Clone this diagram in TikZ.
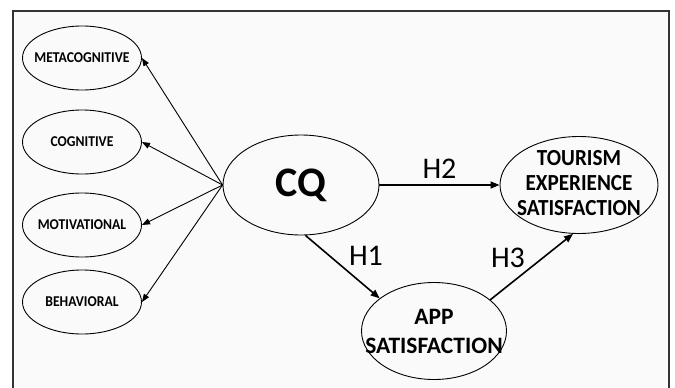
\documentclass[tikz,border=0pt]{standalone}
\usepackage{fontspec}
\usepackage{graphicx}
\setmainfont{Carlito}
\usetikzlibrary{shapes.geometric,arrows.meta}
\definecolor{bgc}{HTML}{FAFAFA}
\definecolor{framec}{HTML}{333333}
\newcommand\sqz[2]{\scalebox{#1}[1]{#2}}
\tikzset{
  oval/.style={ellipse, draw=black, line width=0.9pt, inner sep=0pt},
  small/.style={oval, minimum width=119pt, minimum height=64pt},
  smalltext/.style={font=\fontsize{15}{17}\selectfont\bfseries},
  arr/.style={line width=0.9pt, -{Triangle[length=8pt,width=6pt]}},
  harr/.style={line width=1.6pt, -{Triangle[length=9pt,width=7pt]}},
  hlab/.style={font=\fontsize{30}{32}\selectfont}
}
\begin{document}
\begin{tikzpicture}[x=1pt,y=-1pt]
\useasboundingbox (0,0) rectangle (675,388);
\fill[bgc] (13,11) rectangle (669,388);
\draw[framec, line width=2pt] (13,390) -- (13,11) -- (669,11) -- (669,390);

\node[small, label={[smalltext]center:\sqz{0.91}{METACOGNITIVE}}] (meta) at (82,58) {};
\node[small, label={[smalltext]center:\sqz{0.91}{COGNITIVE}}] (cog) at (82,142) {};
\node[small, label={[smalltext]center:\sqz{0.91}{MOTIVATIONAL}}] (mot) at (82,225) {};
\node[small, label={[smalltext]center:\sqz{0.91}{BEHAVIORAL}}] (beh) at (82,302) {};

\node[oval, minimum width=156pt, minimum height=100pt,
  label={[font=\fontsize{42}{44}\selectfont\bfseries]center:CQ}] (cq) at (301,185) {};
\node[oval, minimum width=158pt, minimum height=97pt,
  label={[font=\fontsize{23}{25}\selectfont\bfseries]center:\sqz{0.92}{\begin{tabular}{@{}c@{}}TOURISM\\EXPERIENCE\\SATISFACTION\end{tabular}}}] (tou) at (579,185) {};
\node[oval, minimum width=145pt, minimum height=97pt,
  label={[font=\fontsize{23.5}{29}\selectfont\bfseries, align=center]center:APP\\SATISFACTION}] (app) at (434,331) {};

\draw[arr] (cq.west) -- (meta.east);
\draw[arr] (cq.west) -- (cog.east);
\draw[arr] (cq.west) -- (mot.east);
\draw[arr] (cq.west) -- (beh.east);

\draw[harr] (cq.east) -- node[hlab, above=2pt] {H2} (tou.west);
\draw[harr] (cq.275) -- (app.149);
\draw[harr] (app.29) -- (tou.263);
\node[hlab] (h1) at (366,256) {H1};
\node[hlab] (h3) at (508,258) {H3};
\end{tikzpicture}
\end{document}
